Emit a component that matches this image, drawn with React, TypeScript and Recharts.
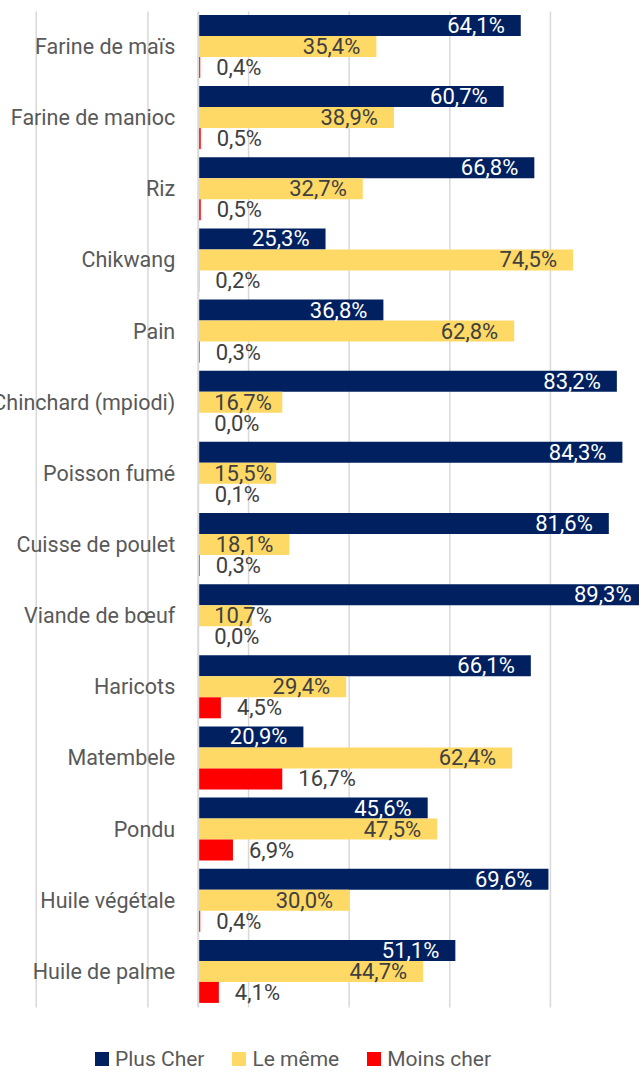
import React from "react";
import {
  BarChart,
  Bar,
  XAxis,
  YAxis,
  CartesianGrid,
  Legend,
  LabelList,
  ReferenceLine,
} from "recharts";

const CATEGORIES = [
  "Farine de maïs",
  "Farine de manioc",
  "Riz",
  "Chikwang",
  "Pain",
  "Chinchard (mpiodi)",
  "Poisson fumé",
  "Cuisse de poulet",
  "Viande de bœuf",
  "Haricots",
  "Matembele",
  "Pondu",
  "Huile végétale",
  "Huile de palme",
];

const PLUS_CHER = [64.1, 60.7, 66.8, 25.3, 36.8, 83.2, 84.3, 81.6, 89.3, 66.1, 20.9, 45.6, 69.6, 51.1];
const LE_MEME = [35.4, 38.9, 32.7, 74.5, 62.8, 16.7, 15.5, 18.1, 10.7, 29.4, 62.4, 47.5, 30.0, 44.7];
const MOINS_CHER = [0.4, 0.5, 0.5, 0.2, 0.3, 0.0, 0.1, 0.3, 0.0, 4.5, 16.7, 6.9, 0.4, 4.1];

const SERIES = [
  { key: "plus", name: "Plus Cher", color: "#002060" },
  { key: "meme", name: "Le même", color: "#FFD966" },
  { key: "moins", name: "Moins cher", color: "#FF0000" },
];

// gridline positions (value axis itself is hidden)
const GRID_TICKS = [-32.2, -10, 10, 30, 50, 70, 90];
const X_DOMAIN = [-39.4, 87.6];

const FONT = "Roboto, 'Open Sans', sans-serif";
const LABEL_W = 58;

const data = CATEGORIES.map((name, i) => ({
  name,
  plus: PLUS_CHER[i],
  meme: LE_MEME[i],
  moins: MOINS_CHER[i],
}));

const fmt = (v: number) => v.toFixed(1).replace(".", ",") + "%";

function insideEnd(fill: string) {
  return (props: any) => {
    const { x, y, width, height, value } = props;
    const fits = width - 32 >= LABEL_W;
    return (
      <text
        x={fits ? x + width - 16 : x + 16}
        y={y + height / 2}
        textAnchor={fits ? "end" : "start"}
        dominantBaseline="central"
        fill={fill}
        fontSize={22}
        fontFamily={FONT}
      >
        {fmt(Number(value))}
      </text>
    );
  };
}

function outsideEnd(props: any) {
  const { x, y, width, height, value } = props;
  return (
    <text
      x={x + Math.max(width, 0) + 16}
      y={y + height / 2}
      textAnchor="start"
      dominantBaseline="central"
      fill="#404040"
      fontSize={22}
      fontFamily={FONT}
    >
      {fmt(Number(value))}
    </text>
  );
}

// category names sit left of the zero line, centred on the middle bar of each group
function categoryLabel(props: any) {
  const { x, y, height, value } = props;
  return (
    <text
      x={x - 23}
      y={y + height / 2}
      textAnchor="end"
      dominantBaseline="central"
      fill="#595959"
      fontSize={21.5}
      fontFamily={FONT}
    >
      {value}
    </text>
  );
}

function LegendContent() {
  return (
    <div style={{ display: "flex", alignItems: "center", height: 20, lineHeight: "20px", paddingLeft: 95, fontFamily: FONT, fontSize: 21, color: "#595959" }}>
      {SERIES.map((s, i) => (
        <div key={s.key} style={{ display: "flex", alignItems: "center", marginLeft: i === 0 ? 0 : 28 }}>
          <span style={{ width: 14, height: 14, background: s.color, display: "inline-block", marginRight: 6 }} />
          <span>{s.name}</span>
        </div>
      ))}
    </div>
  );
}

export default function App() {
  return (
    <div style={{ position: "absolute", left: 0, top: 0, width: 639, height: 1072, overflow: "hidden", background: "#fff" }}>
      <BarChart
        width={639}
        height={1072}
        data={data}
        layout="vertical"
        margin={{ top: 11.4, right: 0, bottom: 44.5, left: 0 }}
        barCategoryGap="5%"
        barGap={0}
      >
        <CartesianGrid horizontal={false} verticalValues={GRID_TICKS} stroke="#D9D9D9" strokeWidth={1.5} />
        <XAxis type="number" hide domain={X_DOMAIN} allowDataOverflow ticks={GRID_TICKS} />
        <YAxis type="category" dataKey="name" hide />
        <ReferenceLine x={0} stroke="#D9D9D9" strokeWidth={2} />
        <Legend
          content={<LegendContent />}
          wrapperStyle={{ top: 1049, bottom: "auto", left: 0, width: 639 }}
        />
        <Bar dataKey="plus" name="Plus Cher" fill="#002060" isAnimationActive={false}>
          <LabelList dataKey="plus" content={insideEnd("#FFFFFF")} />
        </Bar>
        <Bar dataKey="meme" name="Le même" fill="#FFD966" isAnimationActive={false}>
          <LabelList dataKey="meme" content={insideEnd("#404040")} />
          <LabelList dataKey="name" content={categoryLabel} />
        </Bar>
        <Bar dataKey="moins" name="Moins cher" fill="#FF0000" minPointSize={0.01} isAnimationActive={false}>
          <LabelList dataKey="moins" content={outsideEnd} />
        </Bar>
      </BarChart>
    </div>
  );
}
